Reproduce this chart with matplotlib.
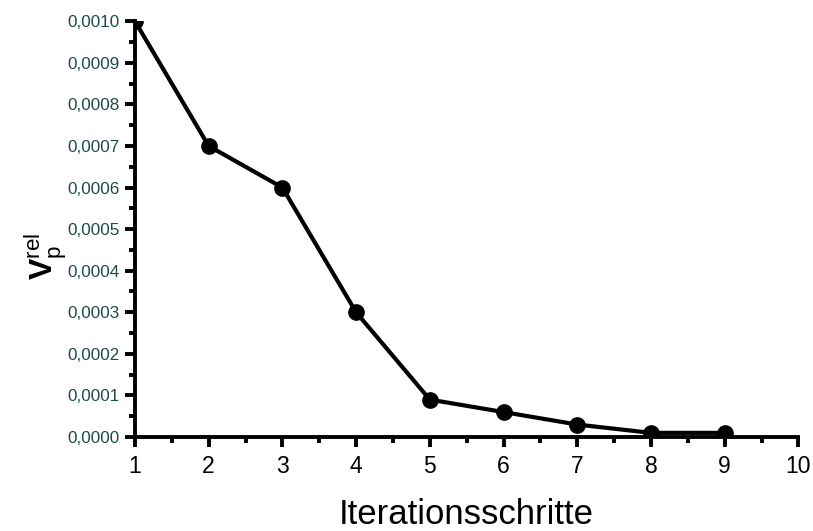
import matplotlib
matplotlib.use('Agg')
import matplotlib.pyplot as plt
from matplotlib.ticker import MultipleLocator

plt.rcParams['font.family'] = ['Liberation Sans', 'DejaVu Sans']
plt.rcParams['mathtext.fontset'] = 'custom'
plt.rcParams['mathtext.rm'] = 'Liberation Sans'
plt.rcParams['mathtext.bf'] = 'Liberation Sans:bold'

steps = [1, 2, 3, 4, 5, 6, 7, 8, 9]
vp_rel = [0.0010, 0.0007, 0.0006, 0.0003, 0.00009, 0.00006, 0.00003, 0.00001, 0.00001]

yticks = [0.0000, 0.0001, 0.0002, 0.0003, 0.0004, 0.0005, 0.0006, 0.0007, 0.0008, 0.0009, 0.0010]
ytick_labels = ['0,0000', '0,0001', '0,0002', '0,0003', '0,0004', '0,0005',
                '0,0006', '0,0007', '0,0008', '0,0009', '0,0010']
xticks = [1, 2, 3, 4, 5, 6, 7, 8, 9, 10]

fig = plt.figure(figsize=(8.13, 5.31), dpi=100)
ax = fig.add_axes([0.166, 0.177, 0.816, 0.783])

ax.plot(steps, vp_rel, color='black', lw=3, marker='o', markersize=11,
        markerfacecolor='black', markeredgecolor='black')

ax.set_xlim(1, 10)
ax.set_ylim(0, 0.0010)
ax.set_xticks(xticks)
ax.set_xticklabels([str(x) for x in xticks], fontsize=16.5)
ax.set_yticks(yticks)
ax.set_yticklabels(ytick_labels, fontsize=12.3, color='#1f4a4a')
ax.xaxis.set_minor_locator(MultipleLocator(0.5))
ax.yaxis.set_minor_locator(MultipleLocator(0.00005))

for side in ['top', 'right']:
    ax.spines[side].set_visible(False)
for side in ['left', 'bottom']:
    ax.spines[side].set_linewidth(2.8)

ax.tick_params(which='major', direction='out', length=7, width=2.8, pad=4)
ax.tick_params(which='minor', direction='out', length=4, width=2.8)
ax.tick_params(axis='x', which='major', pad=6)

ax.set_xlabel('Iterationsschritte', fontsize=25, labelpad=14)
ax.set_ylabel(r'$\mathbf{V}_\mathrm{p}^\mathrm{rel}$', fontsize=23)
ax.yaxis.set_label_coords(-0.10, 0.435)

fig.savefig('out.png', dpi=100)
